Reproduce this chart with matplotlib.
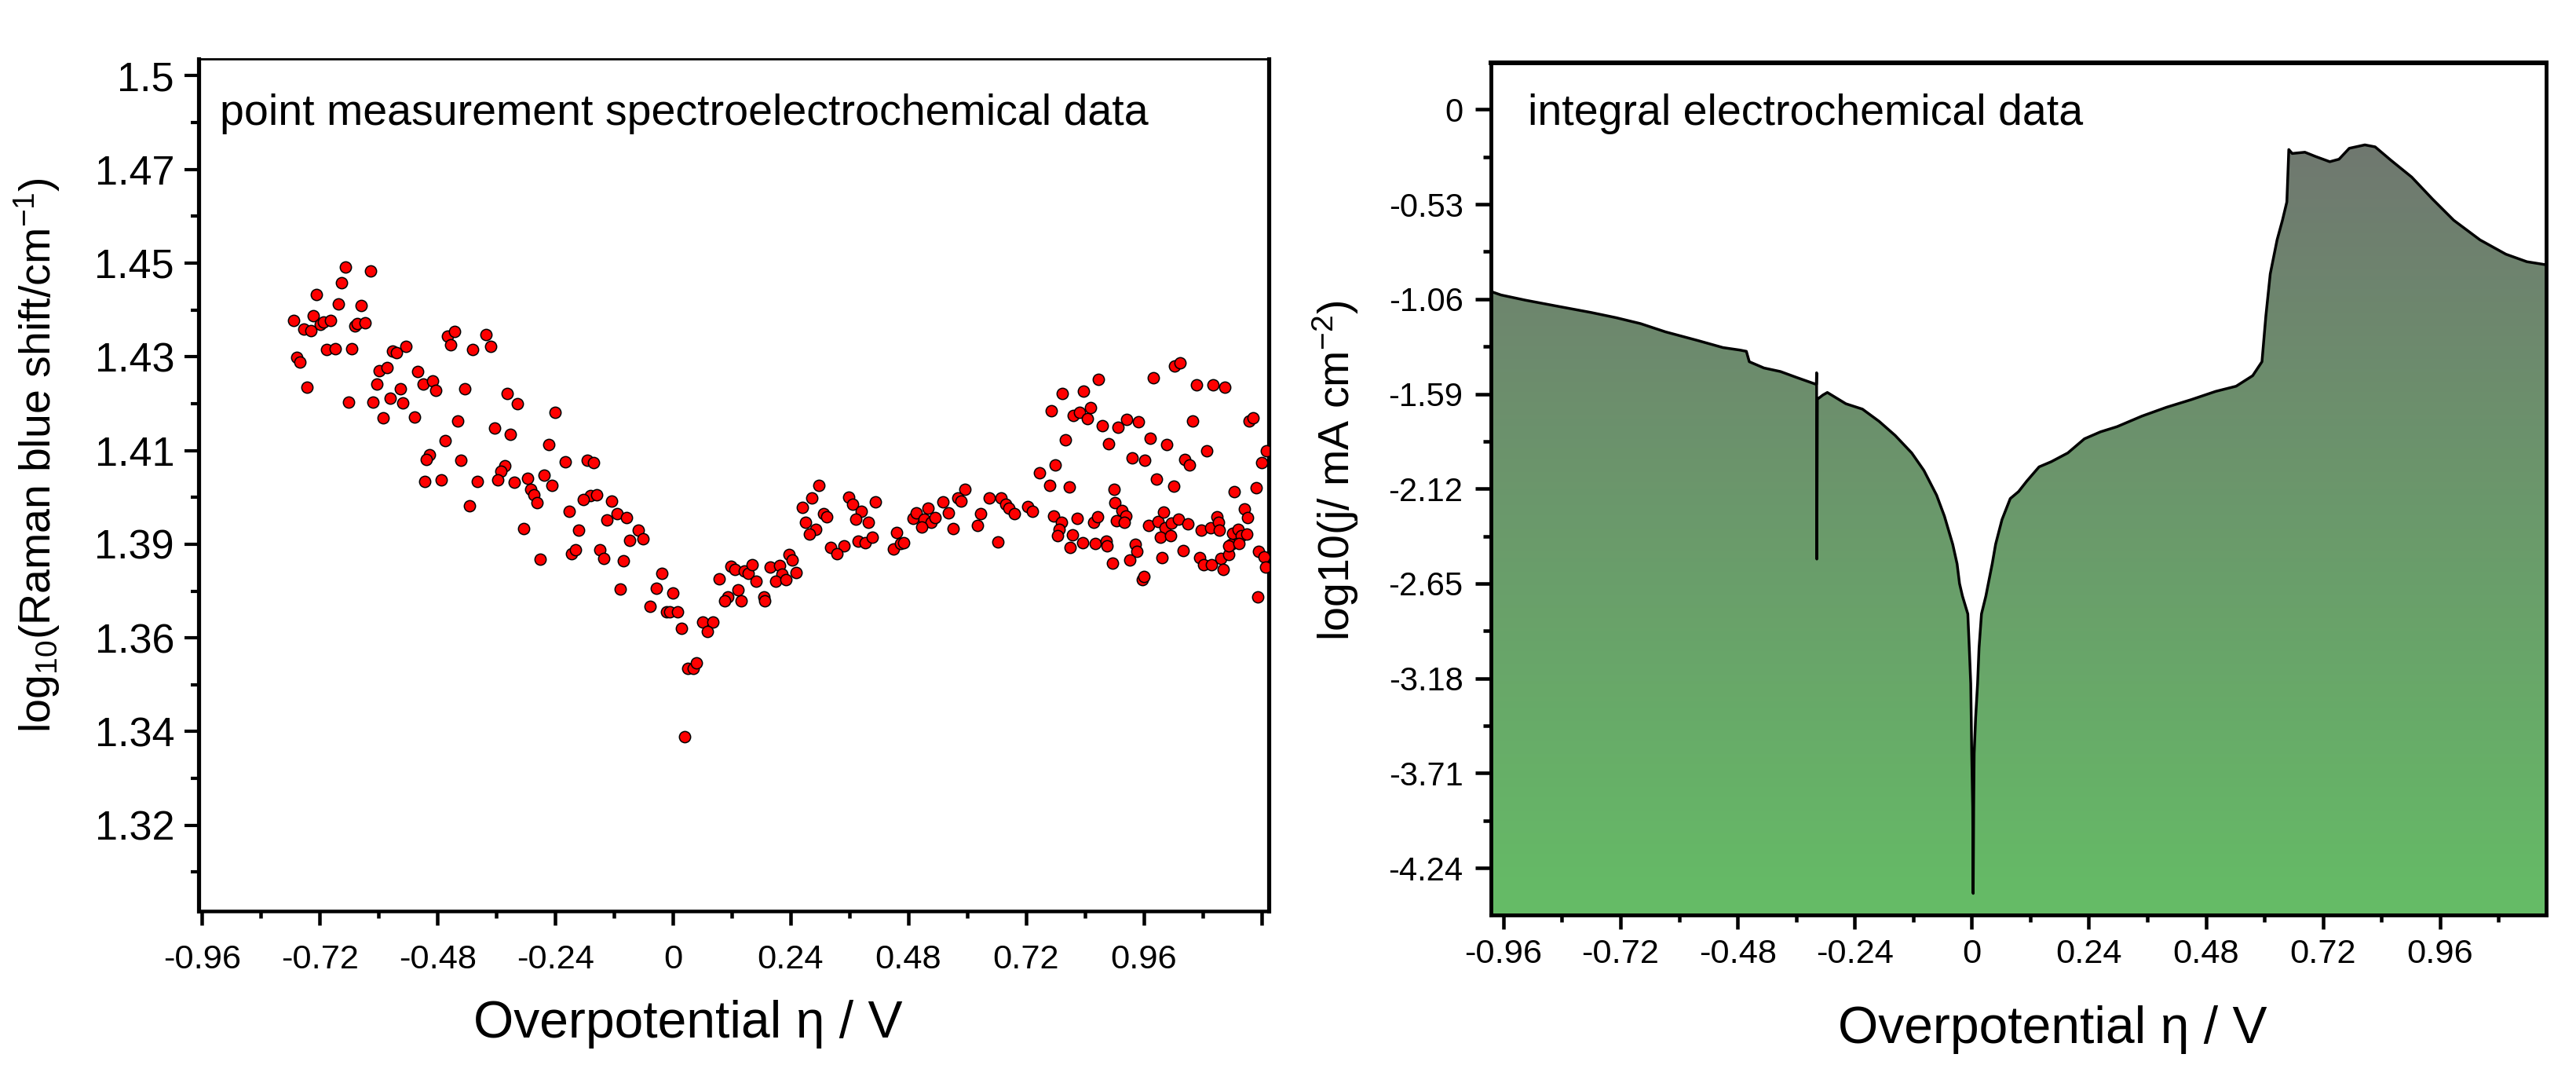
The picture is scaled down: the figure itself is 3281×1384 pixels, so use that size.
import matplotlib.pyplot as plt
import numpy as np
from matplotlib.colors import LinearSegmentedColormap
from matplotlib.patches import Polygon

plt.rcParams['font.family'] = ['Liberation Sans', 'DejaVu Sans']
plt.rcParams['mathtext.fontset'] = 'custom'
plt.rcParams['mathtext.rm'] = 'Liberation Sans'
plt.rcParams['mathtext.it'] = 'Liberation Sans:italic'
plt.rcParams['mathtext.bf'] = 'Liberation Sans:bold'

# ---- left panel: Raman point measurements (eta / V, log10 shift) ----
raman_cathodic = [
    (-0.668, 1.4540), (-0.617, 1.4531), (-0.675, 1.4502), (-0.726, 1.4475), (-0.682, 1.4451),
    (-0.635, 1.4447), (-0.773, 1.4413), (-0.733, 1.4423), (-0.753, 1.4392), (-0.738, 1.4388),
    (-0.719, 1.4403), (-0.713, 1.4408), (-0.698, 1.4412), (-0.648, 1.4398), (-0.643, 1.4404),
    (-0.628, 1.4407), (-0.767, 1.4324), (-0.760, 1.4312), (-0.706, 1.4343), (-0.688, 1.4345),
    (-0.655, 1.4344), (-0.571, 1.4339), (-0.563, 1.4334), (-0.544, 1.4350), (-0.459, 1.4375),
    (-0.445, 1.4386), (-0.453, 1.4354), (-0.408, 1.4342), (-0.381, 1.4379), (-0.371, 1.4350),
    (-0.746, 1.4252), (-0.598, 1.4291), (-0.583, 1.4299), (-0.604, 1.4259), (-0.521, 1.4289),
    (-0.509, 1.4260), (-0.490, 1.4267), (-0.483, 1.4244), (-0.556, 1.4248), (-0.425, 1.4249),
    (-0.661, 1.4216), (-0.612, 1.4216), (-0.577, 1.4226), (-0.551, 1.4214), (-0.591, 1.4179),
    (-0.526, 1.4180), (-0.439, 1.4170), (-0.338, 1.4236), (-0.317, 1.4212), (-0.240, 1.4192),
    (-0.364, 1.4153), (-0.331, 1.4139), (-0.465, 1.4124), (-0.253, 1.4114), (-0.496, 1.4090),
    (-0.502, 1.4079), (-0.432, 1.4076), (-0.343, 1.4063), (-0.350, 1.4051), (-0.219, 1.4072),
    (-0.175, 1.4076), (-0.161, 1.4071), (-0.506, 1.4025), (-0.472, 1.4030), (-0.399, 1.4026),
    (-0.357, 1.4030), (-0.324, 1.4024), (-0.296, 1.4034), (-0.262, 1.4041), (-0.246, 1.4016),
    (-0.289, 1.4006), (-0.283, 1.3994), (-0.168, 1.3992), (-0.155, 1.3994),
]
raman_dip = [
    (-0.182, 1.3982), (-0.125, 1.3979), (-0.277, 1.3974), (-0.415, 1.3968), (-0.212, 1.3954),
    (-0.134, 1.3934), (-0.114, 1.3948), (-0.095, 1.3938), (-0.304, 1.3912), (-0.192, 1.3908),
    (-0.070, 1.3909), (-0.088, 1.3885), (-0.060, 1.3888), (-0.206, 1.3852), (-0.198, 1.3861),
    (-0.149, 1.3861), (-0.141, 1.3841), (-0.101, 1.3835), (-0.270, 1.3838), (-0.023, 1.3805),
    (-0.107, 1.3768), (-0.033, 1.3769), (0.000, 1.3758), (-0.046, 1.3725), (-0.013, 1.3712),
    (-0.006, 1.3712), (0.010, 1.3713), (0.017, 1.3673), (0.061, 1.3688), (0.082, 1.3688),
    (0.071, 1.3665), (0.031, 1.3577), (0.041, 1.3577), (0.048, 1.3590), (0.024, 1.3412),
    (0.118, 1.3822), (0.126, 1.3814), (0.145, 1.3811), (0.153, 1.3805), (0.162, 1.3825),
    (0.095, 1.3792), (0.170, 1.3787), (0.133, 1.3766), (0.112, 1.3749), (0.106, 1.3739),
    (0.139, 1.3739),
]
raman_anodic_high = [
    (0.868, 1.4271), (0.794, 1.4236), (0.838, 1.4242), (0.980, 1.4274), (1.023, 1.4302),
    (1.035, 1.4311), (1.068, 1.4258), (1.102, 1.4258), (1.126, 1.4252), (0.771, 1.4195),
    (0.817, 1.4184), (0.829, 1.4191), (0.852, 1.4202), (0.845, 1.4176), (0.876, 1.4159),
    (0.908, 1.4155), (0.926, 1.4174), (0.950, 1.4169), (1.060, 1.4171), (1.175, 1.4170),
    (1.183, 1.4178), (0.801, 1.4126), (0.889, 1.4116), (0.974, 1.4130), (1.007, 1.4114),
    (1.088, 1.4099), (1.211, 1.4099), (0.937, 1.4083), (0.963, 1.4077), (1.044, 1.4078),
    (1.054, 1.4065), (1.200, 1.4070), (0.780, 1.4065), (0.747, 1.4046), (0.768, 1.4017),
    (0.808, 1.4012), (0.899, 1.4007), (0.987, 1.4032), (1.021, 1.4014), (1.145, 1.4001),
    (1.189, 1.4011), (0.298, 1.4016), (0.595, 1.4006),
]
raman_anodic_low = [
    (0.283, 1.3986), (0.358, 1.3987), (0.366, 1.3971), (0.413, 1.3976), (0.551, 1.3976),
    (0.581, 1.3986), (0.588, 1.3979), (0.646, 1.3986), (0.670, 1.3986), (0.679, 1.3971),
    (0.686, 1.3962), (0.697, 1.3948), (0.724, 1.3965), (0.734, 1.3954), (0.264, 1.3963),
    (0.307, 1.3948), (0.314, 1.3940), (0.385, 1.3954), (0.373, 1.3935), (0.271, 1.3928),
    (0.399, 1.3928), (0.292, 1.3911), (0.278, 1.3899), (0.322, 1.3868), (0.349, 1.3871),
    (0.335, 1.3852), (0.378, 1.3883), (0.393, 1.3879), (0.406, 1.3892), (0.457, 1.3903),
    (0.450, 1.3864), (0.464, 1.3877), (0.471, 1.3879), (0.490, 1.3937), (0.497, 1.3950),
    (0.521, 1.3961), (0.513, 1.3935), (0.527, 1.3928), (0.534, 1.3939), (0.507, 1.3916),
    (0.562, 1.3950), (0.572, 1.3913), (0.622, 1.3920), (0.628, 1.3949), (0.663, 1.3881),
    (0.237, 1.3851), (0.244, 1.3837), (0.199, 1.3820), (0.217, 1.3823), (0.223, 1.3803),
    (0.251, 1.3807), (0.209, 1.3786), (0.230, 1.3790), (0.185, 1.3748), (0.188, 1.3739),
    (0.777, 1.3943), (0.792, 1.3928), (0.787, 1.3911), (0.785, 1.3895), (0.825, 1.3936),
    (0.815, 1.3897), (0.810, 1.3868), (0.835, 1.3879), (0.858, 1.3927), (0.866, 1.3940),
    (0.862, 1.3877), (0.883, 1.3882), (0.886, 1.3870), (0.901, 1.3974), (0.916, 1.3956),
    (0.923, 1.3943), (0.905, 1.3932), (0.920, 1.3927), (0.970, 1.3920), (0.990, 1.3930),
    (1.000, 1.3952), (1.004, 1.3915), (1.017, 1.3926), (1.031, 1.3935), (1.051, 1.3924),
    (0.994, 1.3891), (1.015, 1.3895), (0.943, 1.3875), (0.947, 1.3858), (0.932, 1.3837),
    (0.897, 1.3830), (0.957, 1.3790), (0.960, 1.3797), (0.998, 1.3842), (1.041, 1.3859),
    (1.078, 1.3908), (1.096, 1.3915), (1.110, 1.3941), (1.112, 1.3927), (1.114, 1.3909),
    (1.075, 1.3842), (1.082, 1.3825), (1.099, 1.3825), (1.118, 1.3840), (1.133, 1.3851),
    (1.122, 1.3814), (1.139, 1.3874), (1.133, 1.3871), (1.142, 1.3902), (1.152, 1.3911),
    (1.159, 1.3896), (1.155, 1.3877), (1.170, 1.3899), (1.166, 1.3959), (1.172, 1.3938),
    (1.195, 1.3857), (1.206, 1.3844), (1.209, 1.3820), (1.193, 1.3749),
]

raman_yticks = [1.5, 1.4775, 1.455, 1.4325, 1.41, 1.3875, 1.365, 1.3425, 1.32]
raman_ylabels = ['1.5', '1.47', '1.45', '1.43', '1.41', '1.39', '1.36', '1.34', '1.32']

# ---- right panel: integral electrochemical curve ----
j_eta = [-0.985, -0.965, -0.915, -0.847, -0.780, -0.729, -0.679, -0.628, -0.561, -0.510,
         -0.475, -0.462, -0.456, -0.426, -0.392, -0.359, -0.3185, -0.318, -0.3175, -0.3165,
         -0.305, -0.296, -0.258, -0.224, -0.190, -0.157, -0.123, -0.098, -0.072, -0.056,
         -0.039, -0.030, -0.025, -0.019, -0.008, -0.005, -0.002, -0.001, 0.000, 0.002,
         0.003, 0.004, 0.005, 0.008, 0.012, 0.015, 0.020, 0.029, 0.034, 0.042,
         0.049, 0.062, 0.079, 0.096, 0.113, 0.138, 0.163, 0.197, 0.231, 0.264,
         0.298, 0.349, 0.399, 0.450, 0.500, 0.542, 0.576, 0.595, 0.603, 0.612,
         0.626, 0.637, 0.646, 0.649, 0.650, 0.657, 0.683, 0.705, 0.734, 0.753,
         0.774, 0.806, 0.827, 0.859, 0.902, 0.945, 0.988, 1.042, 1.095, 1.138, 1.177]
j_log = [-1.018, -1.037, -1.066, -1.101, -1.135, -1.164, -1.197, -1.243, -1.292, -1.331,
         -1.345, -1.352, -1.410, -1.445, -1.465, -1.498, -1.537, -1.472, -2.513, -1.620,
         -1.596, -1.582, -1.645, -1.675, -1.743, -1.822, -1.920, -2.018, -2.156, -2.273,
         -2.430, -2.540, -2.650, -2.720, -2.820, -3.010, -3.210, -3.400, -3.600, -3.900,
         -4.382, -3.900, -3.600, -3.400, -3.210, -3.010, -2.820, -2.720, -2.650, -2.540,
         -2.430, -2.293, -2.175, -2.136, -2.077, -1.998, -1.969, -1.920, -1.841, -1.802,
         -1.773, -1.714, -1.665, -1.622, -1.576, -1.547, -1.488, -1.410, -1.154, -0.919,
         -0.729, -0.619, -0.517, -0.300, -0.224, -0.246, -0.239, -0.263, -0.292, -0.278,
         -0.217, -0.198, -0.209, -0.283, -0.378, -0.502, -0.619, -0.729, -0.809, -0.851, -0.868]

j_yticks = [0, -0.53, -1.06, -1.59, -2.12, -2.65, -3.18, -3.71, -4.24]
j_ylabels = ['0', '-0.53', '-1.06', '-1.59', '-2.12', '-2.65', '-3.18', '-3.71', '-4.24']

eta_ticks = [-0.96, -0.72, -0.48, -0.24, 0, 0.24, 0.48, 0.72, 0.96, 1.2]
eta_labels = ['-0.96', '-0.72', '-0.48', '-0.24', '0', '0.24', '0.48', '0.72', '0.96', '']


def minor_between(ticks, lo, hi):
    # minor ticks halfway between majors, kept inside the view range
    t = np.sort(np.asarray(ticks, dtype=float))
    d = t[1] - t[0]
    m = np.r_[t[0] - d / 2, t + d / 2]
    return m[(m > lo) & (m < hi)]


fig = plt.figure(figsize=(3281 / 250, 1384 / 250), dpi=250)
ax1 = fig.add_axes([0.0771, 0.1618, 0.4154, 0.7840])
ax2 = fig.add_axes([0.5789, 0.1582, 0.4094, 0.7843])

# left scatter
xl = (-0.967, 1.215)
yl = (1.2994, 1.504)
pts = np.array(raman_cathodic + raman_dip + raman_anodic_high + raman_anodic_low)
ax1.scatter(pts[:, 0], pts[:, 1], s=17, facecolor='#ff0000', edgecolor='black',
            linewidth=0.45, zorder=3)
ax1.set_yticks(raman_yticks)
ax1.set_yticklabels(raman_ylabels)
ax1.set_yticks(minor_between(raman_yticks, *yl), minor=True)
ax1.set_xticks(eta_ticks)
ax1.set_xticklabels(eta_labels)
ax1.set_xticks(minor_between(eta_ticks, *xl), minor=True)
ax1.set_xlim(*xl)
ax1.set_ylim(*yl)
ax1.tick_params(axis='y', which='major', labelsize=15, length=5.2, width=1.2, pad=3.7)
ax1.tick_params(axis='y', which='minor', length=2.8, width=1.2)
ax1.tick_params(axis='x', which='major', labelsize=12.5, length=5.2, width=1.3, pad=7)
ax1.tick_params(axis='x', which='minor', length=2.6, width=1.3)
ax1.set_ylabel(r'log$_{10}$(Raman blue shift/cm$^{-1}$)', fontsize=16)
ax1.yaxis.set_label_coords(-0.128, 0.535)
ax1.set_xlabel('Overpotential η / V', fontsize=19)
ax1.xaxis.set_label_coords(0.457, -0.104)
ax1.text(0.0198, 0.923, 'point measurement spectroelectrochemical data',
         transform=ax1.transAxes, fontsize=16, va='baseline')
for side, lw in (('left', 1.5), ('right', 1.5), ('bottom', 1.3), ('top', 0.8)):
    ax1.spines[side].set_linewidth(lw)

# right filled curve with vertical gradient
xr = (-0.985, 1.177)
yr = (-4.503, 0.2625)
grad = np.linspace(1, 0, 256).reshape(-1, 1)
cmap = LinearSegmentedColormap.from_list('fill', ['#65bc66', '#717171'])
im = ax2.imshow(grad, extent=[xr[0], xr[1], yr[0], yr[1]], origin='upper',
                aspect='auto', cmap=cmap, zorder=1, interpolation='bilinear')
jx = np.asarray(j_eta)
jy = np.asarray(j_log)
verts = np.column_stack([np.r_[jx, jx[::-1]], np.r_[jy, np.full(len(jx), yr[0] - 1)]])
clip = Polygon(verts, closed=True, transform=ax2.transData, facecolor='none', edgecolor='none')
ax2.add_patch(clip)
im.set_clip_path(clip)
ax2.plot(jx, jy, color='black', lw=1.0, zorder=3)
ax2.set_yticks(j_yticks)
ax2.set_yticklabels(j_ylabels)
ax2.set_yticks(minor_between(j_yticks, *yr), minor=True)
ax2.set_xticks(eta_ticks[:-1])
ax2.set_xticklabels(eta_labels[:-1])
ax2.set_xticks(minor_between(eta_ticks, *xr), minor=True)
ax2.set_xlim(*xr)
ax2.set_ylim(*yr)
ax2.tick_params(axis='y', which='major', labelsize=12, length=5.8, width=1.3, pad=4.5)
ax2.tick_params(axis='y', which='minor', length=2.9, width=1.3)
ax2.tick_params(axis='x', which='major', labelsize=12.5, length=5.2, width=1.3, pad=3.5)
ax2.tick_params(axis='x', which='minor', length=2.6, width=1.3)
ax2.set_ylabel('log10(j/ mA cm$^{-2}$)', fontsize=16)
ax2.yaxis.set_label_coords(-0.124, 0.521)
ax2.set_xlabel('Overpotential η / V', fontsize=19)
ax2.xaxis.set_label_coords(0.532, -0.106)
ax2.text(0.035, 0.927, 'integral electrochemical data',
         transform=ax2.transAxes, fontsize=16, va='baseline')
for side, lw in (('left', 1.4), ('right', 1.4), ('bottom', 1.4), ('top', 1.7)):
    ax2.spines[side].set_linewidth(lw)

fig.savefig('out.png', dpi=250)
plt.close(fig)
